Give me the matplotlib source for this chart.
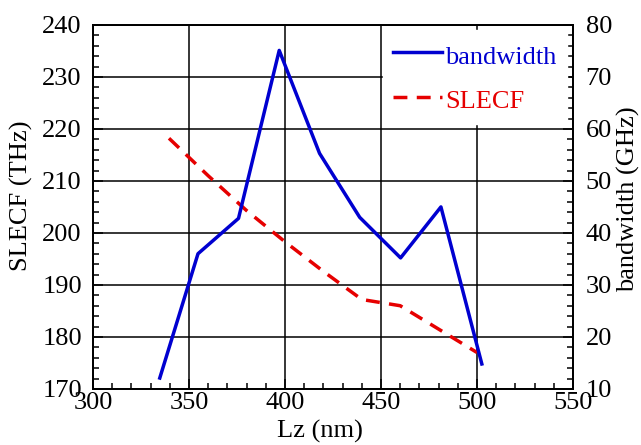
import matplotlib
matplotlib.use("Agg")
import matplotlib.pyplot as plt
from matplotlib.ticker import MultipleLocator

# bandwidth series (right axis, GHz)
lz_bw = [334.8, 354.7, 375.8, 397.0, 418.0, 438.9, 460.2, 481.2, 502.5]
bandwidth = [12.1, 36.0, 42.8, 75.1, 55.3, 43.0, 35.2, 45.0, 14.8]

# SLECF series (left axis, THz)
lz_slecf = [339.6, 360, 380, 400, 420, 440, 460, 480, 500]
slecf = [218.2, 211.0, 204.3, 198.3, 192.6, 187.2, 186.0, 181.5, 177.0]

plt.rcParams['font.family'] = ['Liberation Serif', 'DejaVu Serif']
plt.rcParams['font.size'] = 19

fig = plt.figure(figsize=(6.41, 4.45), dpi=100)
ax = fig.add_axes([0.145, 0.126, 0.749, 0.818])
ax2 = ax.twinx()

red, = ax.plot(lz_slecf, slecf, color='#e60000', lw=2.5, dashes=(4.0, 2.7),
               label='SLECF')
blue, = ax2.plot(lz_bw, bandwidth, color='#0000d0', lw=2.5, label='bandwidth')

ax.set_xlim(300, 550)
ax.set_ylim(170, 240)
ax2.set_ylim(10, 80)

ax.xaxis.set_major_locator(MultipleLocator(50))
ax.xaxis.set_minor_locator(MultipleLocator(10))
ax.yaxis.set_major_locator(MultipleLocator(10))
ax.yaxis.set_minor_locator(MultipleLocator(2))
ax2.yaxis.set_major_locator(MultipleLocator(10))
ax2.yaxis.set_minor_locator(MultipleLocator(2))

ax.grid(True, which='major', color='black', lw=1.1)
ax.tick_params(which='both', direction='in', top=False, right=False, width=1.1)
ax.tick_params(which='major', length=7)
ax.tick_params(which='minor', length=4)
ax.tick_params(axis='x', pad=2)
ax.tick_params(axis='y', pad=8)
ax2.tick_params(which='both', direction='in', width=1.1, pad=9)
ax2.tick_params(which='major', length=7)
ax2.tick_params(which='minor', length=4)

for a in (ax, ax2):
    for s in a.spines.values():
        s.set_linewidth(1.3)

ax.set_xlabel('Lz (nm)')
ax.xaxis.set_label_coords(0.473, -0.085)
ax.set_ylabel('SLECF (THz)')
ax.yaxis.set_label_coords(-0.125, 0.53)
ax2.set_ylabel('bandwidth (GHz)')
ax2.yaxis.set_label_coords(1.092, 0.52)

leg = ax2.legend([blue, red], ['bandwidth', 'SLECF'], loc='upper left',
                 bbox_to_anchor=(0.604, 0.986), borderaxespad=0,
                 frameon=True, fancybox=False, framealpha=1,
                 edgecolor='white', handlelength=1.85, handletextpad=0.12,
                 handleheight=1.3, labelspacing=0.6, borderpad=0.4,
                 labelcolor='linecolor', fontsize=19)

fig.savefig('out.png', dpi=100)
